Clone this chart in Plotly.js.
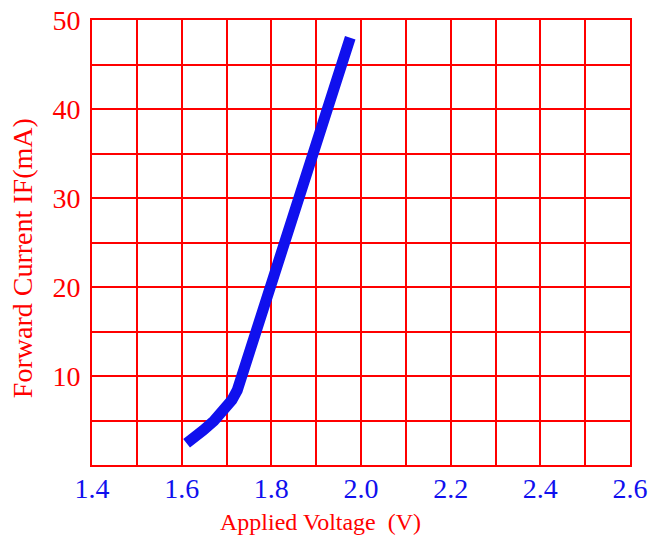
<!DOCTYPE html>
<html><head><meta charset="utf-8">
<script src="https://cdn.plot.ly/plotly-3.0.1.min.js"></script>
<style>html,body{margin:0;padding:0;background:#fff}</style>
</head><body><div id="chart" style="width:648px;height:538px"></div>
<script>
const voltage = [1.611, 1.63, 1.648, 1.672, 1.697, 1.712, 1.724, 1.734, 1.766, 1.798, 1.830, 1.859, 1.891, 1.923, 1.976];
const currentMA = [2.44, 3.1, 3.9, 4.95, 6.2, 7.3, 8.4, 10.0, 15.0, 20.0, 25.0, 30.0, 35.0, 40.0, 48.0];
const xTicks = [1.4, 1.6, 1.8, 2.0, 2.2, 2.4, 2.6];
const xTickText = ['1.4', '1.6', '1.8', '2.0', '2.2', '2.4', '2.6'];
const yTicks = [10, 20, 30, 40, 50];
const xTitle = 'Applied Voltage  (V)';
const yTitle = 'Forward Current IF(mA)';

const red = '#ff0000', blue = '#1010ee';
Plotly.newPlot('chart', [{
  x: voltage, y: currentMA, mode: 'lines', type: 'scatter',
  line: {color: blue, width: 11}, hoverinfo: 'skip'
}], {
  width: 648, height: 538,
  margin: {l: 92, r: 18, t: 20, b: 73},
  paper_bgcolor: '#fff', plot_bgcolor: '#fff',
  showlegend: false,
  font: {family: 'Liberation Serif, Times New Roman, serif'},
  xaxis: {
    range: [1.4, 2.6], tickvals: xTicks, ticktext: xTickText,
    tickfont: {size: 28, color: blue}, ticks: '', ticklabeloverflow: 'allow',
    ticklabelstandoff: -3,
    showgrid: true, gridcolor: red, gridwidth: 2,
    minor: {dtick: 0.1, tick0: 1.4, showgrid: true, gridcolor: red, gridwidth: 2},
    showline: true, linecolor: red, linewidth: 2, mirror: true, zeroline: false
  },
  yaxis: {
    range: [0, 50], tickvals: yTicks,
    tickfont: {size: 28, color: red}, ticks: '', ticklabelstandoff: 4,
    showgrid: true, gridcolor: red, gridwidth: 2,
    minor: {dtick: 5, tick0: 0, showgrid: true, gridcolor: red, gridwidth: 2},
    showline: true, linecolor: red, linewidth: 2, mirror: true, zeroline: false
  },
  annotations: [
    {text: xTitle, xref: 'paper', yref: 'paper', x: 0.4238, y: -0.128,
     xanchor: 'center', yanchor: 'middle', showarrow: false,
     font: {size: 24, color: red}},
    {text: yTitle, xref: 'paper', yref: 'paper', x: -0.130, y: 0.465,
     xanchor: 'center', yanchor: 'middle', showarrow: false, textangle: -90,
     font: {size: 28, color: red}}
  ]
}, {displayModeBar: false, staticPlot: true});
</script></body></html>
